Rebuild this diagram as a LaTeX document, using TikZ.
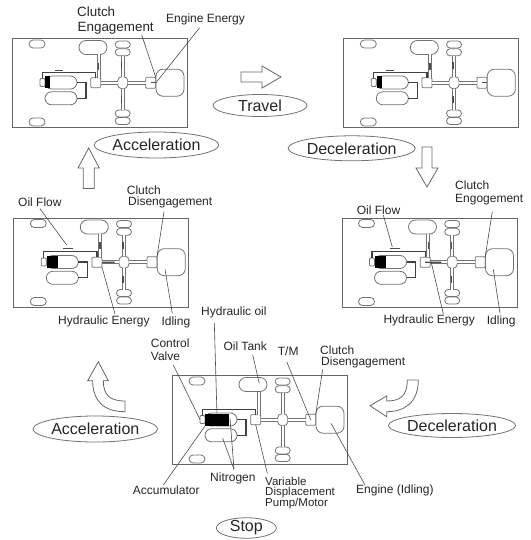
\documentclass[tikz,border=0pt]{standalone}
\usepackage{fontspec}
\setmainfont{Liberation Sans}
\usetikzlibrary{calc,shapes.geometric}
\tikzset{
  part/.style={draw=black!55,line width=.8pt,fill=white,inner sep=0pt,outer sep=0pt,rounded corners=#1},
  part/.default=2pt,
  shaft/.style={draw=black!55,line width=.8pt,double=white,double distance=2.2pt},
  oilpipe/.style={draw=black!75,line width=1.1pt},
  leader/.style={draw=black!70,line width=.6pt},
  flowmark/.style={draw=black!70,line width=1.4pt},
  blockarrow/.style={draw=black!60,line width=.8pt,fill=white,line join=miter},
  lab/.style={font=\fontsize{12}{12}\selectfont,text=black!85,anchor=west,inner sep=0pt},
  clab/.style={font=\fontsize{13.4}{13.4}\selectfont,text=black!85,anchor=west,inner sep=0pt},
  tightlab/.style={font=\fontsize{11.5}{11.5}\selectfont,text=black!85,anchor=west,inner sep=0pt},
  phase/.style={draw=black!55,line width=.8pt,ellipse,fill=white,inner sep=0pt,font=\fontsize{16}{16}\selectfont,text=black!85},
}
% #1 prefix, #2 x, #3 y, #4 width of the black block
\newcommand{\vehicle}[4]{%
\begin{scope}[shift={(#2,#3)}]
  \node[draw=black!60,line width=1pt,fill=white,minimum width=175pt,minimum height=89pt,inner sep=0pt,anchor=north west] (#1frame) at (0,0) {};
  \node[part=4pt,minimum width=16pt,minimum height=8pt] (#1ovA) at (25,6) {};
  \node[part=4pt,minimum width=16pt,minimum height=8pt] (#1ovB) at (25,84) {};
  \node[part=7pt,minimum width=28pt,minimum height=14pt] (#1tank) at (81,9.5) {};
  \node[part=3.5pt,minimum width=15pt,minimum height=7pt] (#1wA) at (110.7,6.5) {};
  \node[part=3.5pt,minimum width=15pt,minimum height=7pt] (#1wB) at (110.7,14.3) {};
  \node[part=3.5pt,minimum width=15pt,minimum height=7pt] (#1wC) at (110.7,75.5) {};
  \node[part=3.5pt,minimum width=15pt,minimum height=7pt] (#1wD) at (110.7,83) {};
  \node[part=4pt,minimum width=10pt,minimum height=12pt] (#1hub) at (110.7,44.7) {};
  \node[part=1pt,minimum width=10pt,minimum height=10pt] (#1pump) at (83.7,44.7) {};
  \node[part=1pt,minimum width=10pt,minimum height=11pt] (#1clutch) at (138.7,44.7) {};
  \node[part=7pt,minimum width=28pt,minimum height=27pt] (#1engine) at (158,44.7) {};
  \node[part=6.5pt,minimum width=32pt,minimum height=13pt,anchor=west] (#1accU) at (33,44.5) {};
  \node[part=6.5pt,minimum width=32pt,minimum height=13pt,anchor=west] (#1accL) at (33,60.3) {};
  \node[part=1pt,minimum width=5pt,minimum height=8pt,anchor=east] (#1valve) at (#1accU.west) {};
  \node[fill=black,inner sep=0pt,minimum width=#4pt,minimum height=12pt,anchor=west] (#1block) at (#1accU.west) {};
  \draw[shaft] (#1pump) -- (#1hub);
  \draw[shaft] (#1hub) -- (#1clutch);
  \draw[shaft] (#1hub) -- (#1wB);
  \draw[shaft] (#1hub) -- (#1wC);
  \draw[shaft] ([xshift=3pt]#1pump.north) -- ([xshift=3pt]#1pump.north |- #1tank.south);
  \draw[oilpipe] (#1valve.north) |- ([yshift=5.5pt]#1pump.north) -- (#1pump.north);
  \draw[oilpipe] (#1accU.east) -| ([xshift=9pt]#1accU.east |- #1accL.east) -- (#1accL.east);
\end{scope}}
% small flow marks on the shafts
\newcommand{\flowmarks}[1]{%
  \draw[flowmark] ($([xshift=3pt]#1pump.north)!.5!([xshift=3pt]#1pump.north |- #1tank.south)$) ++(0,-3.5) -- ++(0,7);
  \draw[flowmark] ($(#1hub)!.55!(#1wB)$) ++(-1,-3.5) -- ++(0,7);
  \draw[flowmark] ($(#1hub)!.55!(#1wC)$) ++(-1,-3.5) -- ++(0,7);
}
\begin{document}
\begin{tikzpicture}[x=1pt,y=-1pt]
\useasboundingbox (0,0) rectangle (530,540);
\fill[white] (0,0) rectangle (530,540);

\vehicle{a}{12}{38}{5}
\vehicle{b}{343.3}{38}{5}
\vehicle{c}{13.3}{217.5}{11.5}
\vehicle{d}{341.5}{217.5}{11.5}
\vehicle{e}{172}{375}{23.5}
\flowmarks{a}\flowmarks{b}\flowmarks{c}\flowmarks{d}

% clutch-side and pump-side energy marks
\draw[flowmark] (aclutch.center) -- (aengine.west);
\draw[flowmark] (bclutch.center) -- (bengine.west);
\draw[flowmark] (cpump.east) -- ($(cpump)!.65!(chub)$);
\draw[flowmark] (dpump.center) -- ($(dpump)!.6!(dhub)$);
% oil flow marks
\coordinate (cflow) at (67.5,248.5);
\coordinate (dflow) at (395,248.5);
\draw[flowmark,line width=.9pt] ([xshift=-5pt]cflow) -- ([xshift=5pt]cflow);
\draw[flowmark,line width=.9pt] ([xshift=-5pt]dflow) -- ([xshift=5pt]dflow);
\coordinate (aflow) at (59,70.5);
\draw[flowmark,line width=.9pt] ([xshift=-4pt]aflow) -- ([xshift=4pt]aflow);
\coordinate (bflow) at (390,70.5);
\draw[flowmark,line width=.9pt] ([xshift=-4pt]bflow) -- ([xshift=4pt]bflow);

% phase ellipses
\node[phase,minimum width=94pt,minimum height=22pt] (travel) at (260,105.5) {Travel};
\node[phase,minimum width=120pt,minimum height=26pt] (accA) at (156.4,145) {Acceleration};
\node[phase,minimum width=119pt,minimum height=25pt] (decA) at (351.7,148.3) {Deceleration};
\node[phase,minimum width=120pt,minimum height=26pt] (accB) at (95.3,429) {Acceleration};
\node[phase,minimum width=119pt,minimum height=24pt] (decB) at (452,425.5) {Deceleration};
\node[phase,minimum width=60pt,minimum height=18pt] (stop) at (246.3,528) {Stop};

% block arrows
\draw[blockarrow] (241,72) -- (262,72) -- (262,66) -- (281,77) -- (262,88) -- (262,82) -- (241,82) -- cycle;
\draw[blockarrow] (422,147) -- (432,147) -- (432,168) -- (438,168) -- (427,187) -- (416,168) -- (422,168) -- cycle;
\draw[blockarrow] (83.3,188.5) -- (83.3,168) -- (78,168) -- (88.7,148) -- (99.3,168) -- (94.3,168) -- (94.3,188.5) -- cycle;
\draw[blockarrow] (98.3,361.7) -- (108.3,380.7) -- (103.3,380.7) .. controls (103.3,395) and (110,401) .. (125,401) -- (125,411.7) .. controls (103,411.7) and (92.7,400) .. (92.7,380.7) -- (87.7,380.7) -- cycle;
\draw[blockarrow] (370,405.7) -- (386.7,396) -- (386.7,401) .. controls (400,401) and (407.3,396) .. (407.3,380) -- (418.3,380) .. controls (418.3,402) and (405,411.7) .. (386.7,411.7) -- (386.7,416.7) -- cycle;

% box a labels
\node[clab] (l1) at (77,11.7) {Clutch};
\node[clab] (l2) at (77.5,28) {Engagement};
\node[lab] (l3) at (166,19) {Engine Energy};
\draw[leader] (141.7,35) -- (aclutch.north east);
\draw[leader] (l3.south) ++(-6,3) -- (aengine.west);

% box c labels
\node[lab] (l4) at (18,202) {Oil Flow};
\node[lab] (l5) at (126.7,190.7) {Clutch};
\node[lab] (l6) at (128,202.7) {Disengagement};
\node[lab] (l7) at (58,321) {Hydraulic Energy};
\node[lab] (l8) at (161.3,322) {Idling};
\coordinate (l4e) at (66.7,245);
\draw[leader] (l4.south) ++(0,2) -- (l4e);
\draw[leader] (164,211.7) -- (cclutch.north east);
\draw[leader] (cpump.south east) -- (115,314);
\coordinate (c1) at (165,269.3);
\draw[leader] (c1) -- (172.3,313.3);

% box d labels
\node[lab] (l9) at (356.7,210) {Oil Flow};
\node[lab] (l10) at (455,185.7) {Clutch};
\node[lab] (l11) at (455,200) {Engogement};
\node[lab] (l12) at (383.3,320.7) {Hydraulic Energy};
\node[lab] (l13) at (486.7,321) {Idling};
\draw[leader] (383.3,215) -- (392.3,247);
\draw[leader] (492.3,211.7) -- (dclutch.north east);
\draw[leader] (430.7,260) -- (443.3,314);
\coordinate (d1) at (493.3,269.3);
\draw[leader] (d1) -- (500,313.3);

% box e labels
\node[lab] (l14) at (201,312.7) {Hydraulic oil};
\node[lab] (l15) at (150.7,343.3) {Control};
\node[lab] (l16) at (150.7,356.7) {Valve};
\node[lab] (l17) at (223.3,346.7) {Oil Tank};
\node[lab] (l18) at (277.7,351.7) {T/M};
\node[lab] (l19) at (320,350) {Clutch};
\node[lab] (l20) at (321,362.3) {Disengagement};
\node[lab] (l21) at (132.7,490.7) {Accumulator};
\node[lab] (l22) at (210,478.3) {Nitrogen};
\node[tightlab] (l23) at (265,481) {Variable};
\node[tightlab] (l24) at (265,492.5) {Displacement};
\node[tightlab] (l25) at (265,504) {Pump/Motor};
\node[lab] (l26) at (356,490) {Engine (Idling)};
\draw[leader] (214.3,322.7) -- (eblock.north);
\draw[leader] (173.3,365) -- (evalve.west);
\draw[leader] (252.7,355) -- (259.3,383.3);
\draw[leader] (286.7,361.7) -- (eclutch.center);
\draw[leader] (322.7,369.3) -- (eclutch.north east);
\draw[leader] (163.3,485) -- (eaccU.south west);
\draw[leader] (234,469.3) -- (230,418.3);
\draw[leader] (234,469.3) -- (222.7,438.3);
\draw[leader] (epump.south) -- (267.3,473.3);
\draw[leader] (331,423.3) -- (365,485);
\end{tikzpicture}
\end{document}
